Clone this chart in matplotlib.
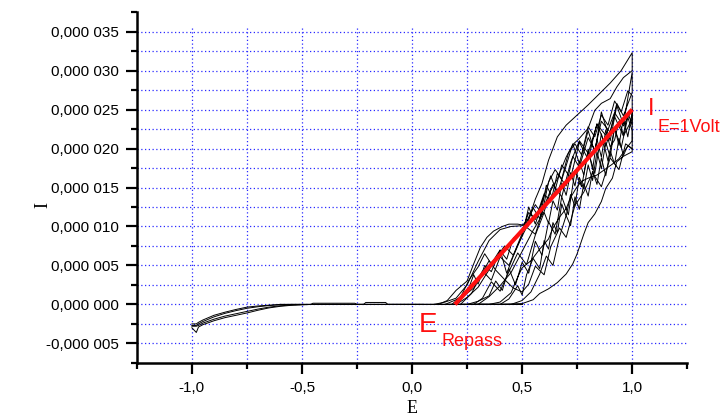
import matplotlib.pyplot as plt
from matplotlib.ticker import MultipleLocator, FuncFormatter

plt.switch_backend('agg')
plt.rcParams['font.family'] = ['Liberation Sans', 'DejaVu Sans']

# current in micro-amps, potential in volts
# cathodic + passive part (forward scan from -1 V, and return to -1 V)
e_cath = [-1.0, -0.98, -0.97, -0.95, -0.9, -0.85, -0.8, -0.75, -0.7, -0.65, -0.6, -0.55, -0.5, -0.45, -0.3, -0.1, 0.1, 0.3, 0.5]
i_cath_fwd_a = [-3.0, -3.6, -2.9, -2.6, -2.1, -1.7, -1.4, -1.1, -0.75, -0.45, -0.25, -0.12, -0.05, 0.0, 0.0, 0.0, 0.0, 0.0, 0.0]
i_cath_fwd_b = [-2.8, -2.8, -2.7, -2.4, -1.9, -1.5, -1.2, -0.9, -0.6, -0.35, -0.18, -0.08, -0.03, 0.0, 0.0, 0.0, 0.0, 0.05, 0.0]
i_cath_rev_a = [-2.5, -2.5, -2.3, -2.0, -1.4, -1.0, -0.65, -0.35, -0.2, -0.1, 0.0, 0.0, 0.0, 0.0, 0.0, 0.0, 0.0, 0.0, 0.0]
i_cath_rev_b = [-2.7, -2.7, -2.5, -2.2, -1.6, -1.15, -0.8, -0.5, -0.3, -0.15, -0.05, 0.0, 0.0, 0.0, 0.0, 0.0, 0.0, 0.0, 0.0]

e_bump = [-0.6, -0.46, -0.45, -0.26, -0.25, -0.22, -0.21, -0.12, -0.11, 0.05]
i_bump = [0.0, 0.0, 0.15, 0.15, 0.0, 0.0, 0.25, 0.25, 0.0, 0.0]

# active branches
e_b1 = [0.10, 0.15, 0.20, 0.25, 0.30, 0.35, 0.40, 0.45, 0.50, 0.53, 0.56, 0.59, 0.62, 0.66, 0.70, 0.75, 0.80, 0.85, 0.90, 0.95, 1.00]
i_b1 = [0.0, 0.3, 0.8, 2.5, 5.5, 8.2, 9.6, 10.0, 10.1, 11.0, 13.5, 15.5, 18.5, 21.5, 23.0, 24.3, 25.6, 27.0, 28.4, 30.0, 32.3]

e_b2 = [0.15, 0.2, 0.25, 0.28, 0.3, 0.33, 0.36, 0.4, 0.43, 0.46, 0.5, 0.53, 0.56, 0.6, 0.63, 0.66, 0.7, 0.73, 0.76, 0.8, 0.83, 0.86, 0.9, 0.93, 0.96, 1.0]
i_b2 = [0.0, 0.6, 1.5, 3.8, 2.6, 5.0, 4.2, 6.9, 5.8, 8.5, 9.4, 11.8, 10.9, 14.2, 13.1, 16.8, 15.2, 19.0, 17.6, 21.4, 19.8, 23.5, 22.1, 25.8, 24.2, 27.2]

e_b3 = [0.18, 0.22, 0.26, 0.3, 0.33, 0.36, 0.4, 0.43, 0.46, 0.5, 0.53, 0.56, 0.6, 0.63, 0.66, 0.7, 0.73, 0.76, 0.8, 0.83, 0.86, 0.9, 0.93, 0.96, 1.0]
i_b3 = [0.0, 0.9, 3.2, 4.8, 6.5, 5.2, 7.0, 4.0, 6.2, 8.8, 12.5, 10.3, 13.9, 16.5, 14.2, 17.8, 20.6, 18.1, 22.3, 19.5, 24.7, 21.0, 25.5, 23.1, 29.8]

e_b4 = [0.3, 0.4, 0.5, 0.55, 0.58, 0.62, 0.66, 0.7, 0.73, 0.75, 0.78, 0.8, 0.83, 0.86, 0.88, 0.91, 0.93, 0.96, 1.0]
i_b4 = [0.0, 0.0, 0.1, 0.6, 1.4, 2.0, 2.8, 3.9, 5.2, 6.5, 9.0, 10.5, 11.6, 13.2, 14.9, 16.2, 18.3, 19.0, 19.6]

e_b5 = [0.35, 0.4, 0.45, 0.48, 0.5, 0.54, 0.58, 0.62, 0.64, 0.67, 0.7, 0.72, 0.745, 0.77, 0.8, 0.84, 0.88, 0.91, 0.94, 0.97, 1.0]
i_b5 = [0.0, 0.3, 1.5, 3.5, 4.7, 5.6, 7.1, 8.4, 9.8, 11.2, 12.3, 13.7, 14.9, 15.8, 16.2, 16.6, 17.4, 18.0, 18.7, 19.9, 21.0]

e_b6 = [0.25, 0.3, 0.35, 0.38, 0.41, 0.44, 0.47, 0.5, 0.53, 0.56, 0.59, 0.62, 0.65, 0.68, 0.71, 0.74, 0.77, 0.8, 0.83, 0.86, 0.89, 0.92, 0.95, 0.98, 1.0]
i_b6 = [0.0, 0.4, 1.1, 3.0, 1.8, 4.6, 2.5, 5.4, 4.0, 8.1, 6.3, 10.6, 9.0, 13.8, 11.5, 17.2, 15.1, 19.6, 16.8, 21.9, 18.4, 22.6, 20.1, 24.0, 22.3]

e_b7 = [0.2, 0.24, 0.28, 0.32, 0.36, 0.4, 0.44, 0.48, 0.52, 0.56, 0.6, 0.64, 0.68, 0.72, 0.76, 0.8, 0.84, 0.88, 0.92, 0.96, 1.0]
i_b7 = [0.0, 1.2, 2.1, 4.3, 3.1, 6.1, 5.0, 7.6, 9.9, 9.0, 12.6, 15.4, 13.8, 18.2, 21.0, 19.4, 23.1, 21.7, 24.6, 22.9, 25.0]

e_b8 = [0.3, 0.35, 0.4, 0.45, 0.5, 0.55, 0.6, 0.63, 0.66, 0.7, 0.73, 0.76, 0.8, 0.83, 0.86, 0.9, 0.93, 0.96, 1.0]
i_b8 = [0.0, 1.0, 2.4, 4.1, 6.8, 9.5, 11.9, 14.6, 16.1, 18.9, 20.5, 21.3, 22.6, 24.9, 25.8, 26.4, 27.9, 29.1, 30.0]

e_b9 = [0.12, 0.16, 0.2, 0.25, 0.28, 0.31, 0.34, 0.37, 0.41, 0.44, 0.48, 0.52, 0.55, 0.58, 0.61, 0.64, 0.68, 0.72, 0.76, 0.8, 0.84, 0.88, 0.92, 0.96, 1.0]
i_b9 = [0.0, 0.5, 1.8, 3.0, 5.2, 7.3, 8.6, 9.4, 10.0, 10.3, 10.3, 10.1, 12.4, 11.0, 15.3, 13.6, 17.9, 16.2, 20.8, 18.6, 23.2, 20.3, 24.1, 21.6, 23.8]

e_b10 = [0.22, 0.27, 0.31, 0.35, 0.38, 0.42, 0.46, 0.5, 0.53, 0.56, 0.6, 0.63, 0.67, 0.7, 0.74, 0.78, 0.82, 0.86, 0.9, 0.94, 0.97, 1.0]
i_b10 = [0.0, 1.4, 3.6, 5.6, 4.4, 3.2, 2.1, 1.6, 2.6, 4.9, 3.8, 7.4, 9.8, 8.6, 12.7, 14.4, 16.9, 15.1, 18.8, 17.3, 20.6, 20.0]

e_b11 = [0.28, 0.32, 0.36, 0.4, 0.44, 0.48, 0.52, 0.56, 0.6, 0.62, 0.64, 0.66, 0.68, 0.7, 0.72, 0.74, 0.76, 0.78, 0.8, 0.82, 0.84, 0.86, 0.88, 0.9, 0.92, 0.94, 0.96, 0.98, 1.0]
i_b11 = [0.0, 0.8, 2.9, 1.7, 4.2, 6.6, 5.1, 8.9, 11.8, 10.4, 13.3, 12.1, 15.6, 14.0, 16.9, 15.2, 18.4, 16.6, 19.9, 17.3, 21.2, 18.9, 22.4, 20.2, 21.1, 23.5, 21.8, 24.6, 23.0]

e_b12 = [0.4, 0.44, 0.48, 0.5, 0.52, 0.55, 0.58, 0.6, 0.62, 0.64, 0.66, 0.68, 0.7, 0.72, 0.74, 0.76, 0.78, 0.8, 0.82, 0.84, 0.86, 0.88, 0.9, 0.92, 0.94, 0.96, 0.98, 1.0]
i_b12 = [0.0, 0.7, 2.4, 1.2, 3.8, 5.9, 4.6, 8.2, 7.1, 10.5, 9.2, 12.9, 11.3, 14.1, 12.6, 16.3, 14.8, 17.9, 15.9, 19.6, 17.4, 20.8, 18.9, 22.7, 20.4, 23.9, 21.5, 24.7]

e_b13 = [0.2, 0.25, 0.3, 0.34, 0.38, 0.42, 0.46, 0.5, 0.53, 0.56, 0.59, 0.62, 0.65, 0.68, 0.71, 0.74, 0.77, 0.8, 0.83, 0.86, 0.89, 0.92, 0.95, 0.98, 1.0]
i_b13 = [0.0, 0.9, 2.2, 4.0, 5.8, 7.5, 6.3, 9.1, 11.2, 12.8, 11.6, 15.7, 17.3, 16.1, 19.4, 20.6, 19.2, 22.8, 21.5, 24.3, 23.0, 26.1, 24.7, 27.4, 26.8]

e_b14 = [0.45, 0.5, 0.54, 0.58, 0.61, 0.64, 0.67, 0.7, 0.72, 0.74, 0.76, 0.78, 0.8, 0.82, 0.84, 0.86, 0.88, 0.9, 0.92, 0.94, 0.96, 0.98, 1.0]
i_b14 = [0.0, 0.5, 1.6, 3.9, 6.2, 5.0, 8.7, 11.4, 10.1, 13.8, 12.2, 15.5, 13.9, 17.1, 15.4, 18.8, 16.5, 19.7, 18.0, 21.3, 19.1, 20.4, 19.9]

# repassivation line
e_repass = [0.195, 1.0]
i_repass = [0.0, 25.0]

loops = [((e_b8, i_b8), (e_b1, i_b1)),
         ((e_b2, i_b2), (e_b3, i_b3)),
         ((e_b9, i_b9), (e_b7, i_b7)),
         ((e_b5, i_b5), (e_b6, i_b6)),
         ((e_b4, i_b4), (e_b10, i_b10)),
         ((e_b11, i_b11), (e_b12, i_b12)),
         ((e_b13, i_b13), (e_b14, i_b14))]

fig = plt.figure(figsize=(7.28, 4.19), dpi=100)
ax = fig.add_axes([0.188, 0.134, 0.756, 0.837])

# grid
grid_kw = dict(color='#2a2aff', lw=0.9, ls=(0, (1, 2)), zorder=0)
for k in range(17):
	ax.axhline(-5 + 2.5 * k, **grid_kw)
for k in range(9):
	ax.axvline(-1.0 + 0.25 * k, ymax=0.96, **grid_kw)

line_kw = dict(color='black', lw=0.7, zorder=2)
ax.plot(e_cath, i_cath_fwd_a, **line_kw)
ax.plot(e_cath, i_cath_fwd_b, **line_kw)
ax.plot(e_cath, i_cath_rev_a, **line_kw)
ax.plot(e_cath, i_cath_rev_b, **line_kw)
ax.plot(e_bump, i_bump, **line_kw)
for (ea, ia), (eb, ib) in loops:
	ax.plot(ea + eb[::-1], ia + ib[::-1], **line_kw)

ax.plot(e_repass, i_repass, color='#ff1010', lw=3, zorder=3, solid_capstyle='butt')

ax.text(1.07, 23.6, 'I', color='#ff1010', fontsize=17, va='bottom', ha='left')
ax.text(1.113, 23.8, 'E=1Volt', color='#ff1010', fontsize=13, va='top', ha='left')
ax.text(0.03, -4.35, 'E', color='#ff1010', fontsize=20, va='bottom', ha='left')
ax.text(0.135, -3.7, 'Repass', color='#ff1010', fontsize=13, va='top', ha='left')

ax.set_xlim(-1.25, 1.25)
ax.set_ylim(-7.5, 37.5)
ax.xaxis.set_major_locator(MultipleLocator(0.5))
ax.xaxis.set_minor_locator(MultipleLocator(0.25))
ax.yaxis.set_major_locator(MultipleLocator(5))
ax.yaxis.set_minor_locator(MultipleLocator(2.5))


def fmt_y(v, pos):
	s = f"{v / 1e6:.6f}".replace('.', ',')
	return s[:-3] + ' ' + s[-3:]


def fmt_x(v, pos):
	return f"{v:.1f}".replace('.', ',')


ax.yaxis.set_major_formatter(FuncFormatter(fmt_y))
ax.xaxis.set_major_formatter(FuncFormatter(fmt_x))
ax.tick_params(which='major', direction='out', length=8, width=1.6, labelsize=11, pad=5)
ax.tick_params(which='minor', direction='out', length=4, width=1.6)

for side in ['top', 'right']:
	ax.spines[side].set_visible(False)
for side in ['left', 'bottom']:
	ax.spines[side].set_linewidth(1.8)

ax.set_xlabel('E', family='Liberation Serif', fontsize=13, labelpad=4)
ax.set_ylabel('I', family='Liberation Serif', fontsize=13)
ax.yaxis.set_label_coords(-0.155, 0.45)

plt.savefig('out.png', dpi=100)
plt.close()
